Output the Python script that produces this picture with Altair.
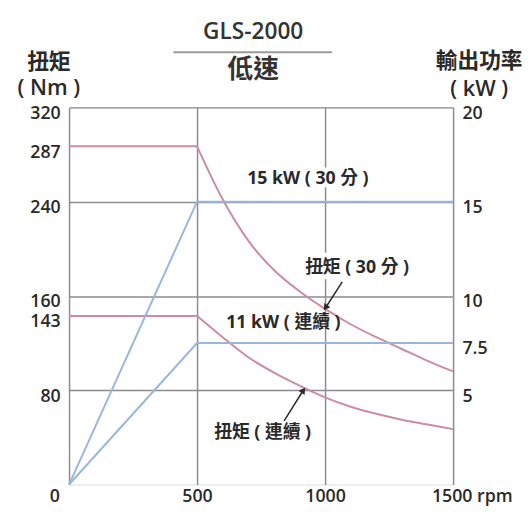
import altair as alt
import pandas as pd

# ---- data ----
rpm_flat = [0, 500]
torque_30min_flat = [287, 287]
torque_cont_flat = [143, 143]
rpm_curve = [500, 600, 700, 800, 900, 1000, 1100, 1200, 1300, 1400, 1500]
torque_30min_curve = [287, 242, 207, 182, 164, 149, 136, 125, 115, 105, 96]
torque_cont_curve = [143, 125, 108, 95, 84, 74, 66, 60, 55, 51, 47]
power_rpm = [0, 500, 1500]
power_30min_kw = [0, 15, 15]
power_cont_kw = [0, 7.5, 7.5]

x_ticks = [0, 500, 1000, 1500]
left_ticks = [80, 143, 160, 240, 287, 320]
right_ticks = [5, 7.5, 10, 15, 20]

label_text = ["15 kW ( 30 分 )", "扭矩 ( 30 分 )", "11 kW ( 連續 )", "扭矩 ( 連續 )"]
label_rpm = [933, 1125, 837, 756]
label_nm = [259, 184, 137, 44]
arrow_tail_rpm = [1067, 840]
arrow_tail_nm = [172, 54]
arrow_head_rpm = [1002, 915]
arrow_head_nm = [150, 80]

FONT = "Open Sans, Noto Sans CJK TC"
RED = "#cc8ca4"
BLUE = "#9ab6de"
GRID = "#8c8c8c"
INK = "#2a2a2a"

# ---- tables ----
flat_df = pd.DataFrame({
    "rpm": rpm_flat + rpm_flat,
    "nm": torque_30min_flat + torque_cont_flat,
    "series": ["30min"] * 2 + ["cont"] * 2,
})
curve_df = pd.DataFrame({
    "rpm": rpm_curve + rpm_curve,
    "nm": torque_30min_curve + torque_cont_curve,
    "series": ["30min"] * len(rpm_curve) + ["cont"] * len(rpm_curve),
})
power_df = pd.DataFrame({
    "rpm": power_rpm + power_rpm,
    "kw": power_30min_kw + power_cont_kw,
    "series": ["30min"] * 3 + ["cont"] * 3,
})
label_df = pd.DataFrame({"label": label_text, "rpm": label_rpm, "nm": label_nm,
                         "idx": list(range(len(label_text)))})
arrow_df = pd.DataFrame({"rpm": arrow_tail_rpm, "nm": arrow_tail_nm,
                         "rpm2": arrow_head_rpm, "nm2": arrow_head_nm,
                         "idx": [0, 1]})

x_axis = alt.Axis(
    values=x_ticks, title=None, grid=True, gridColor=GRID, gridWidth=1.5, format="d",
    domain=False, ticks=False, labelPadding=3, labelFont=FONT, labelFontSize=18,
    labelFontWeight=600, labelColor=INK, labelFlush=False,
    labelExpr="datum.value == 1500 ? '1500 rpm' : datum.label",
    labelAlign={"condition": {"test": "datum.value == 1500", "value": "left"}, "value": "center"},
    labelOffset={"condition": [{"test": "datum.value == 0", "value": -15},
                               {"test": "datum.value == 1500", "value": -22}], "value": 0},
)
x_scale = alt.Scale(domain=[0, 1500], nice=False)

y_axis = alt.Axis(
    values=left_ticks, grid=True, gridColor=GRID, gridWidth=1.5, format="d",
    gridOpacity={"condition": {"test": "datum.value == 143 || datum.value == 287", "value": 0}, "value": 1},
    domain=False, ticks=False, labelPadding=9, labelFont=FONT, labelFontSize=18,
    labelFontWeight=600, labelColor=INK, labelBaseline="middle", labelOffset=6,
    title=["扭矩", "( Nm )"], titleAngle=0, titleAlign="center", titleBaseline="top",
    titleX=-21, titleY=-56, titleFont=FONT, titleFontSize=22, titleFontWeight=600,
    titleColor=INK, titleLineHeight=26,
)
y_scale = alt.Scale(domain=[0, 320], nice=False)


def X(field="rpm"):
    return alt.X(f"{field}:Q", scale=x_scale, axis=x_axis)


def Y(field="nm"):
    return alt.Y(f"{field}:Q", scale=y_scale, axis=y_axis)


flat = alt.Chart(flat_df).mark_line(color=RED, strokeWidth=2).encode(
    x=X(), y=Y(), detail="series:N")
curve = alt.Chart(curve_df).mark_line(color=RED, strokeWidth=2, interpolate="monotone").encode(
    x=X(), y=Y(), detail="series:N")

halo = alt.Chart(label_df).transform_filter("datum.idx < 2").mark_text(
    font=FONT, fontSize=18, fontWeight=700, stroke="white", strokeWidth=9,
    strokeJoin="round", color="white").encode(x=X(), y=Y(), text="label:N")
labels = alt.Chart(label_df).mark_text(
    font=FONT, fontSize=18, fontWeight=700, color=INK).encode(x=X(), y=Y(), text="label:N")

arrow_lines = alt.Chart(arrow_df).mark_rule(color=INK, strokeWidth=1.5).encode(
    x=X(), y=Y(), x2="rpm2:Q", y2="nm2:Q")
head1 = alt.Chart(arrow_df).transform_filter("datum.idx == 0").mark_point(
    shape="triangle-up", filled=True, color=INK, size=55, angle=214, opacity=1).encode(
    x=X("rpm2"), y=Y("nm2"))
head2 = alt.Chart(arrow_df).transform_filter("datum.idx == 1").mark_point(
    shape="triangle-up", filled=True, color=INK, size=55, angle=34, opacity=1).encode(
    x=X("rpm2"), y=Y("nm2"))

sep = alt.Chart(label_df).transform_filter("datum.idx == 0").mark_rule(
    color="#9a9a9a", strokeWidth=2).encode(
    x=alt.value(106), x2=alt.value(267), y=alt.value(-56))

left = alt.layer(flat, curve, halo, labels, arrow_lines, head1, head2, sep)

power = alt.Chart(power_df).mark_line(color=BLUE, strokeWidth=2).encode(
    x=X(),
    y=alt.Y("kw:Q", scale=alt.Scale(domain=[0, 20], nice=False),
            axis=alt.Axis(orient="right", values=right_ticks, grid=False, domain=False,
                          ticks=False, labelPadding=9, labelFont=FONT, labelFontSize=18,
                          labelFontWeight=600, labelColor=INK, labelBaseline="middle",
                          labelOffset=6, labelFlush=False, format="~g",
                          title=["輸出功率", "( kW )"], titleAngle=0, titleAlign="center",
                          titleBaseline="top", titleX=26, titleY=-57, titleFont=FONT,
                          titleFontSize=22, titleFontWeight=600, titleColor=INK,
                          titleLineHeight=28)),
    detail="series:N",
)

chart = alt.layer(left, power).resolve_scale(y="independent").properties(
    width=390, height=383,
    autosize=alt.AutoSizeParams(type="none"),
    padding={"left": 62, "top": 97, "right": 71, "bottom": 27},
    title=alt.TitleParams(
        "GLS-2000", subtitle="低速", frame="group", anchor="middle", dx=-8,
        font=FONT, fontSize=23, fontWeight=600, color="#333333",
        subtitleFont=FONT, subtitleFontSize=26, subtitleFontWeight=600,
        subtitleColor="#333333", subtitlePadding=13, offset=-33,
    ),
).configure_view(stroke=GRID, strokeWidth=1.5).configure(background="white")

chart.save("out.html", embed_options={"renderer": "svg", "actions": False})
